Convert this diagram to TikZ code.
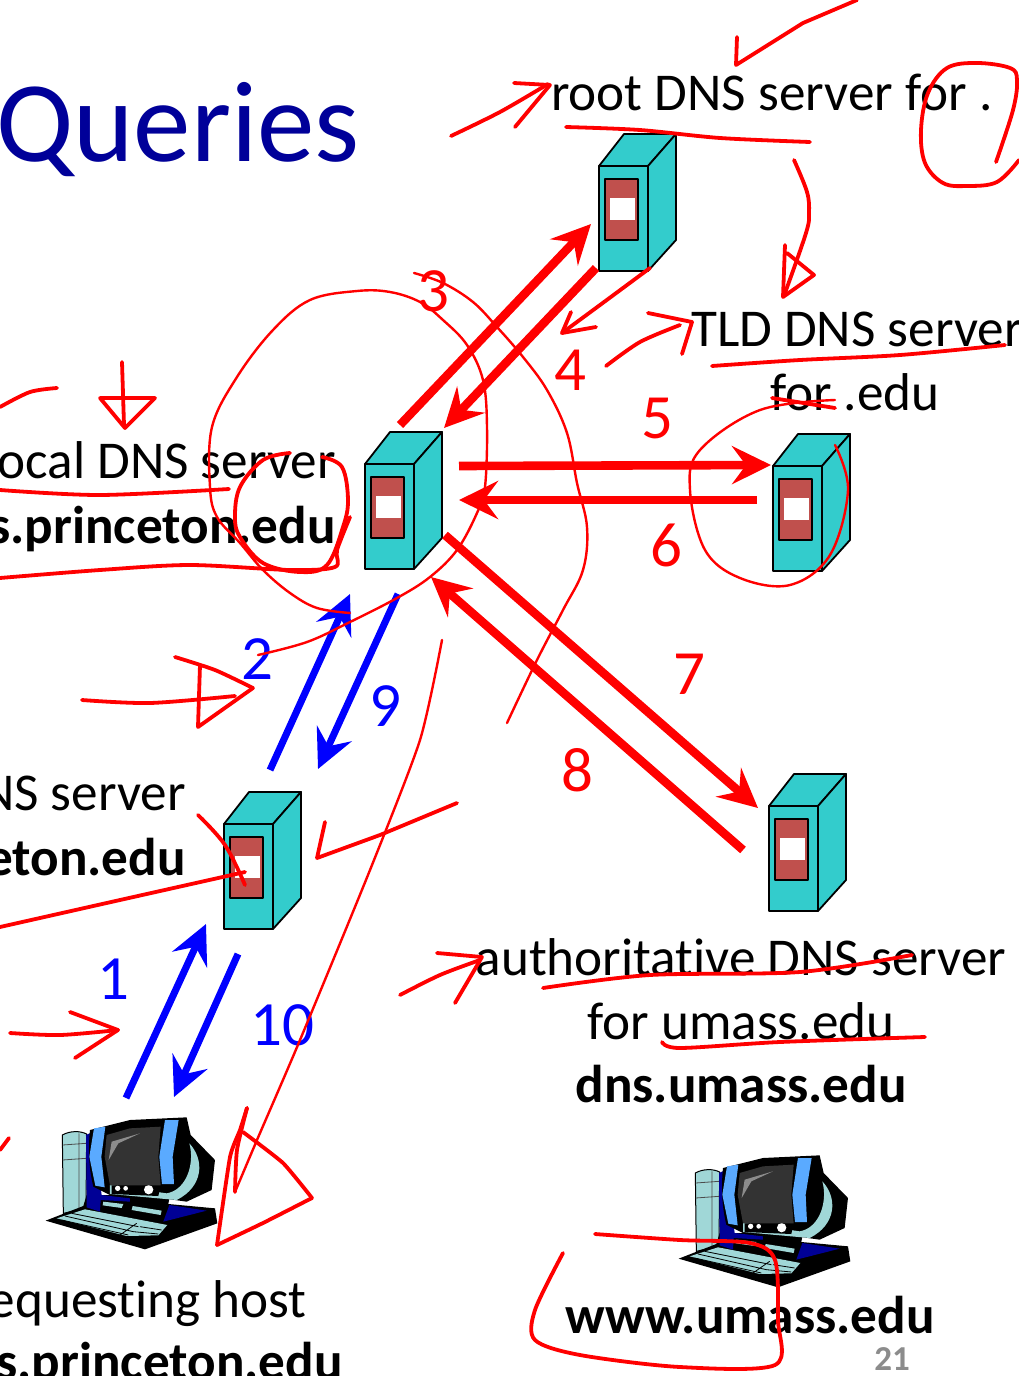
\documentclass[tikz,border=0pt]{standalone}
\usepackage{fontspec}
\setmainfont{Carlito}[Ligatures={NoCommon,NoRequired,NoContextual}]
\usetikzlibrary{arrows.meta}
\definecolor{srvteal}{RGB}{51,204,204}
\definecolor{srvbrick}{RGB}{192,80,77}
\definecolor{ttlblue}{RGB}{0,0,153}
\definecolor{pclight}{RGB}{160,215,215}
\definecolor{pcblue}{RGB}{0,0,150}
\definecolor{pcsky}{RGB}{90,170,255}
\tikzset{
  x=1pt,y=-1pt,
  lbl/.style={inner sep=0pt,font=\fontsize{53.2}{64}\selectfont,anchor=base},
  lblb/.style={lbl,font=\fontsize{53.2}{64}\selectfont\bfseries},
  numr/.style={inner sep=0pt,font=\fontsize{63}{72}\selectfont,text=red},
  numb/.style={inner sep=0pt,font=\fontsize{63}{72}\selectfont,text=blue},
  redarr/.style={draw=red,line width=8.6pt,-{Stealth[length=39pt,width=38pt,inset=14pt]}},
  bluearr/.style={draw=blue,line width=7pt,-{Stealth[length=39pt,width=38pt,inset=14pt]}},
  ink/.style={draw=red,line width=3.8pt,line cap=round,line join=round},
  thin ink/.style={draw=red,line width=2.4pt,line cap=round,line join=round},
  srvline/.style={draw=black,line width=1.8pt,line join=round},
}
\newcommand{\serverpic}[3]{%
\begin{scope}[shift={(#1,#2)}]
  \coordinate (#3) at (39,69);
  \path[srvline,fill=srvteal] (365,464)--(414,464)--(442,432)--(390,432)--cycle;
  \path[srvline,fill=srvteal] (414,464)--(442,432)--(442,538)--(414,569)--cycle;
  \path[srvline,fill=srvteal] (365,464) rectangle (414,569);
  \path[srvline,fill=srvbrick] (371,477) rectangle (404,538);
  \fill[white] (376,496) rectangle (401,518);
\end{scope}}
\newcommand{\pcpic}[3]{%
\begin{scope}[shift={(#1,#2)}]
  \coordinate (#3) at (130,1180);
  \begin{scope}[shift={(30,1100)},x=0.3333pt,y=-0.3333pt]
    \path[draw=black,line width=1pt,fill=pclight] (97,105)..controls (120,92) and (150,92)..(170,102)--(168,325)--(100,340)--cycle;
    \draw[black!70,line width=0.8pt] (147,100)--(147,325) (98,135)--(168,130) (98,180)--(168,175);
    \fill[black] (47,362)--(160,318)--(170,285)--(420,285)--(415,312)--(555,325)--(562,370)--(345,448)--cycle;
    \fill[pcblue] (168,105)--(190,95)--(215,285)--(300,295)--(300,305)--(212,300)--(210,335)--(170,322)--cycle;
    \fill[pcblue] (400,365)--(418,315)--(530,332)--cycle;
    \path[fill=pclight] (80,355)--(165,328)--(412,375)--(385,406)--(290,408)--cycle;
    \draw[black,line width=0.8pt] (105,348)--(310,395) (125,340)--(325,380) (95,360)--(295,405) (270,405)--(320,370) (330,380)--(395,390) (310,395)--(385,402);
    \fill[pclight] (220,305)--(280,312)--(275,324)--(218,316)--cycle;
    \fill[pclight] (308,318)--(395,332)--(392,345)--(305,330)--cycle;
    \fill[black] (180,90)--(300,60)--(470,52)--(482,105)--(555,180)--(545,270)--(470,305)--(400,295)--(240,285)--(190,260)..controls (175,200) and (175,140)..(180,90)--cycle;
    \path[fill=pclight] (478,130)..controls (525,180) and (520,260)..(440,300)--(240,282)--(240,255)--(410,280)..controls (470,270) and (495,190)..(478,130)--cycle;
    \fill[black] (245,256)--(390,265)--(385,288)--(245,282)--cycle;
    \fill[white] (263,265) circle (8) (287,265) circle (7) (356,269) circle (14);
    \fill[pcsky] (192,85)--(226,80)--(214,170)--(224,262)--(196,257)--(178,170)--cycle;
    \fill[pcsky] (405,60)--(446,60)--(428,170)--(432,252)--(396,252)--(388,170)--cycle;
    \fill[black!80] (230,105)--(300,85)--(392,80)--(385,170)--(392,256)--(240,256)--(224,170)--cycle;
    \fill[black!45] (236,180)--(245,125)--(330,100)--(265,130)--cycle;
  \end{scope}
\end{scope}}
\begin{document}
\begin{tikzpicture}
\useasboundingbox (0,0) rectangle (1019,1376);
\fill[white] (0,0) rectangle (1019,1376);
% title
\node[inner sep=0pt,anchor=base west,text=ttlblue,font=\fontsize{115}{130}\selectfont] (title) at (-4,161) {Queries};
% icons
\serverpic{0}{0}{srvlocal}
\serverpic{234}{-298}{srvroot}
\serverpic{408}{2}{srvtld}
\serverpic{404}{342}{srvauth}
\serverpic{-141}{360}{srvcampus}
\pcpic{0}{0}{hostreq}
\pcpic{633}{38}{hostwww}
% labels
\node[lbl,anchor=base west] (lroot) at (551,110) {root DNS server for .};
\node[lbl,anchor=base west] (ltld) at (691,346) {TLD DNS server};
\node[lbl] (ltldb) at (855,410) {for .edu};
\node[lbl,anchor=base east] (lloc) at (336,478) {ocal DNS server};
\node[lblb,anchor=base east] (llocb) at (336,543) {s.princeton.edu};
\node[lbl,anchor=base east] (lcam) at (186,810) {NS server};
\node[lblb,anchor=base east] (lcamb) at (186,875) {eton.edu};
\node[lbl,anchor=base east] (lreq) at (307,1317) {equesting host};
\node[lblb,anchor=base east] (lreqb) at (343,1379) {s.princeton.edu};
\node[lbl] (laut) at (741,975) {authoritative DNS server};
\node[lbl] (lautb) at (741,1039) {for umass.edu};
\node[lblb] (lautc) at (741,1102) {dns.umass.edu};
\node[lblb] (lwww) at (750,1333) {www.umass.edu};
\node[inner sep=0pt,anchor=base,text=black!45,font=\fontsize{35}{40}\selectfont\bfseries] (pageno) at (892,1370) {21};
% numbers
\node[numr] (n3) at (433,291) {3};
\node[numr] (n4) at (570,370) {4};
\node[numr] (n5) at (657,418) {5};
\node[numr] (n6) at (666,545) {6};
\node[numr] (n7) at (689,674) {7};
\node[numr] (n8) at (577,770) {8};
\node[numb] (n2) at (257,659) {2};
\node[numb] (n9) at (385,706) {9};
\node[numb] (n1) at (113,979) {1};
\node[numb] (n10) at (282,1025) {10};
% connector end points
\coordinate (a3s) at (400,425); \coordinate (a3e) at (591,224);
\coordinate (a4s) at (596,268); \coordinate (a4e) at (444,428);
\coordinate (a5s) at (459,466); \coordinate (a5e) at (771,465);
\coordinate (a6s) at (757,500); \coordinate (a6e) at (459,500);
\coordinate (a7s) at (445,535); \coordinate (a7e) at (758,808);
\coordinate (a8s) at (743,850); \coordinate (a8e) at (431,577);
\coordinate (a2s) at (270,770); \coordinate (a2e) at (350,594);
\coordinate (a9s) at (398,594); \coordinate (a9e) at (318,769);
\coordinate (a1s) at (126,1098); \coordinate (a1e) at (206,924);
\coordinate (a10s) at (238,954); \coordinate (a10e) at (174,1097);
\draw[redarr] (a3s)--(a3e);
\draw[redarr] (a4s)--(a4e);
\draw[redarr] (a5s)--(a5e);
\draw[redarr] (a6s)--(a6e);
\draw[redarr] (a7s)--(a7e);
\draw[redarr] (a8s)--(a8e);
\draw[bluearr] (a2s)--(a2e);
\draw[bluearr] (a9s)--(a9e);
\draw[bluearr] (a1s)--(a1e);
\draw[bluearr] (a10s)--(a10e);
% freehand ink
\draw[ink] (737,37)--(736,65)--(803,23)--(857,0);
\draw[ink] plot[smooth,tension=0.5] coordinates {(451,136)(500,112)(548,84)};
\draw[ink] (514,83)--(550,85)--(515,127);
\draw[ink] plot[smooth,tension=0.5] coordinates {(566,127)(640,130)(720,138)(810,142)};
\draw[ink] plot[smooth,tension=0.6] coordinates {(996,162)(1013,110)(1017,80)(1010,68)(977,63)(947,68)(928,93)(921,130)(925,163)(943,183)(967,186)(997,182)(1019,160)};
\draw[ink] plot[smooth,tension=0.6] coordinates {(794,160)(807,192)(809,213)(806,233)(785,293)};
\draw[ink] (785,245)--(783,297)--(814,275)--(787,253);
\draw[ink] plot[smooth,tension=0.5] coordinates {(650,268)(600,305)(562,333)};
\draw[ink] (571,312)--(562,333)--(596,327);
\draw[ink] plot[smooth,tension=0.5] coordinates {(606,366)(640,342)(680,325)};
\draw[ink] (648,313)--(692,322)--(682,354);
\draw[ink] plot[smooth,tension=0.5] coordinates {(712,366)(800,360)(900,355)(1005,345)};
\draw[ink] (772,398)--(835,408);
\draw[thin ink] plot[smooth,tension=0.6] coordinates {(835,400)(760,410)(700,450)(690,490)(705,550)(740,578)(790,585)(830,555)(848,490)(835,445)};
% large loops around the local server
\draw[thin ink] plot[smooth,tension=0.6] coordinates {(414,273)(443,283)(473,302)(497,327)(523,357)(547,390)(567,433)(577,483)(587,527)(583,570)(563,610)(537,660)(507,723)};
\draw[thin ink] plot[smooth,tension=0.6] coordinates {(350,613)(317,608)(290,593)(263,570)(240,543)(217,517)(210,487)(212,427)(237,377)(273,330)(310,300)(357,291)(390,292)(420,302)(443,320)(467,345)(483,380)(487,427)(485,487)(477,513)(457,550)(430,577)(397,598)(350,622)(307,642)(258,655)};
\draw[ink] plot[smooth,tension=0.5] coordinates {(0,407)(30,392)(57,388)};
\draw[ink] (122,362)--(124,425);
\draw[ink] (100,398)--(155,398)--(125,428)--(100,398);
\draw[ink] plot[smooth,tension=0.5] coordinates {(0,490)(100,495)(229,489)};
\draw[ink] plot[smooth,tension=0.5] coordinates {(0,578)(100,570)(190,565)(290,570)(335,567)(337,550)(350,517)};
\draw[ink] plot[smooth,tension=0.6] coordinates {(290,453)(263,460)(240,487)(235,517)(240,537)(263,563)(300,572)(327,565)(343,527)(348,500)(342,467)(322,457)};
\draw[ink] plot[smooth,tension=0.5] coordinates {(82,700)(150,703)(235,696)};
\draw[ink] plot[smooth,tension=0.4] coordinates {(175,657)(215,670)(253,688)};
\draw[ink] (253,688)--(198,727)--(200,665);
\draw[ink] plot[smooth,tension=0.6] coordinates {(198,815)(225,845)(245,885)};
\draw[ink] plot[smooth,tension=0.5] coordinates {(0,927)(120,900)(245,872)};
\draw[ink] (457,803)--(380,835)--(317,858)--(325,822);
\draw[thin ink] plot[smooth,tension=0.4] coordinates {(442,640)(420,740)(370,870)(300,1040)(257,1140)(235,1192)};
\draw[ink] plot[smooth,tension=0.4] coordinates {(235,1192)(237,1150)(247,1108)};
\draw[ink] plot[smooth,tension=0.3] coordinates {(247,1108)(240,1130)(230,1157)(217,1245)};
\draw[ink] plot[smooth,tension=0.3] coordinates {(217,1245)(263,1223)(312,1198)};
\draw[ink] plot[smooth,tension=0.3] coordinates {(312,1198)(283,1163)(243,1132)};
\draw[ink] plot[smooth,tension=0.5] coordinates {(10,1033)(60,1035)(118,1030)};
\draw[ink] (70,1012)--(118,1030)--(75,1058);
\draw[ink] (0,1150)--(9,1138);
\draw[ink] plot[smooth,tension=0.5] coordinates {(400,995)(440,975)(480,960)};
\draw[ink] (437,953)--(482,957)--(455,1003);
\draw[ink] plot[smooth,tension=0.5] coordinates {(543,988)(650,975)(800,972)(912,955)};
\draw[ink] plot[smooth,tension=0.5] coordinates {(662,1042)(680,1048)(780,1042)(925,1037)};
\draw[ink] plot[smooth,tension=0.5] coordinates {(595,1234)(680,1240)(750,1243)(775,1260)(778,1320)(775,1365)(680,1367)(580,1355)(535,1340)(535,1310)(563,1253)};
\end{tikzpicture}
\end{document}
